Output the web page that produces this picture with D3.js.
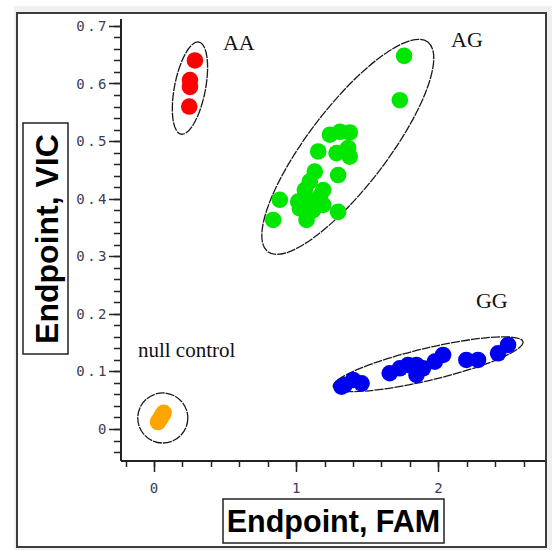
<!DOCTYPE html>
<html>
<head>
<meta charset="utf-8">
<script src="https://cdn.jsdelivr.net/npm/d3@7"></script>
<style>
  body { margin: 0; background: #fff; }
  svg { display: block; }
</style>
</head>
<body>
<svg id="svg" width="552" height="550"></svg>
<script>
// genotype clusters, [FAM, VIC] endpoint values
const aaPoints = [[0.288, 0.640], [0.253, 0.606], [0.253, 0.594], [0.248, 0.560]]
const agPoints = [
  [1.759, 0.648], [1.729, 0.571], [1.237, 0.511], [1.307, 0.516], [1.377, 0.515],
  [1.155, 0.482], [1.284, 0.479], [1.365, 0.488], [1.377, 0.473], [1.295, 0.441],
  [1.131, 0.447], [1.096, 0.430], [1.061, 0.415], [1.190, 0.415], [0.885, 0.398],
  [1.014, 0.395], [1.084, 0.398], [1.167, 0.404], [1.026, 0.383], [1.119, 0.380],
  [1.190, 0.389], [1.073, 0.363], [1.295, 0.377], [0.838, 0.363]
]
const ggPoints = [
  [1.319, 0.0735], [1.342, 0.0764], [1.401, 0.0851], [1.460, 0.0794], [1.658, 0.0968],
  [1.729, 0.1054], [1.787, 0.1112], [1.846, 0.1112], [1.846, 0.0938], [1.892, 0.1054],
  [1.975, 0.117], [2.033, 0.1285], [2.197, 0.1199], [2.279, 0.1199], [2.420, 0.1315],
  [2.490, 0.1459]
]
const nullPoints = [[0.028, 0.012], [0.038, 0.016], [0.049, 0.020], [0.058, 0.024], [0.068, 0.028]]

const clusterNames = ['AA', 'AG', 'GG', 'null control']
const clusterColours = ['#ff0000', '#00e600', '#0000f0', '#ffa500']
// ellipse: centre, end of major axis, minor/major ratio
const ellipseCentres = [[0.253, 0.592], [1.363, 0.490], [1.928, 0.1125], [0.062, 0.0191]]
const ellipseTips = [[0.316, 0.672], [1.926, 0.672], [2.595, 0.1516], [0.238, 0.0191]]
const ellipseRatios = [0.33, 0.30, 0.165, 1]
const labelAnchors = [[0.485, 0.658], [2.089, 0.664], [2.264, 0.210], [-0.113, 0.125]]

const xMajor = [0, 1, 2]
const yMajor = [0, 0.1, 0.2, 0.3, 0.4, 0.5, 0.6, 0.7]
const xMinor = d3.range(-0.2, 2.61, 0.2)
const yMinor = d3.range(-0.04, 0.701, 0.02)

const svg = d3.select('#svg')

// window background and frame
svg.append('rect')
  .attr('x', 14).attr('y', 6).attr('width', 538).attr('height', 544)
  .attr('fill', '#f0f0f0')
svg.append('rect')
  .attr('x', 17).attr('y', 13).attr('width', 529).attr('height', 534)
  .attr('fill', '#fff')
  .attr('stroke', '#3c3c3c')
  .attr('stroke-width', 2)

const x = d3.scaleLinear().domain([-0.232, 2.75]).range([121, 545])
const y = d3.scaleLinear().domain([-0.0556, 0.712]).range([461, 19])

const tickFont = '"DejaVu Sans Mono", monospace'

// y axis
const yAxis = svg.append('g')
yAxis.append('line')
  .attr('x1', x(-0.232)).attr('x2', x(-0.232))
  .attr('y1', y(0.712)).attr('y2', y(-0.0556))
  .attr('stroke', '#222').attr('stroke-width', 2)
yAxis.selectAll('.minor')
  .data(yMinor)
  .join('line')
  .attr('x1', 114).attr('x2', 121)
  .attr('y1', d => Math.round(y(d)) + 0.5).attr('y2', d => Math.round(y(d)) + 0.5)
  .attr('stroke', '#222').attr('stroke-width', 1.5)
yAxis.selectAll('.major')
  .data(yMajor)
  .join('line')
  .attr('x1', 109).attr('x2', 121)
  .attr('y1', d => Math.round(y(d)) + 0.5).attr('y2', d => Math.round(y(d)) + 0.5)
  .attr('stroke', '#222').attr('stroke-width', 1.5)
yAxis.selectAll('text')
  .data(yMajor)
  .join('text')
  .text(d => d3.format('.1~f')(d))
  .attr('x', 109)
  .attr('y', d => y(d))
  .attr('dy', '0.36em')
  .style('font-family', tickFont)
  .style('font-size', '14px')
  .style('letter-spacing', '2.5px')
  .style('text-anchor', 'end')
  .style('fill', '#3c3c58')

// x axis
const xAxis = svg.append('g')
xAxis.append('line')
  .attr('x1', x(-0.232)).attr('x2', x(2.75))
  .attr('y1', y(-0.0556)).attr('y2', y(-0.0556))
  .attr('stroke', '#222').attr('stroke-width', 2)
xAxis.selectAll('.minor')
  .data(xMinor)
  .join('line')
  .attr('x1', d => Math.round(x(d)) + 0.5).attr('x2', d => Math.round(x(d)) + 0.5)
  .attr('y1', 461).attr('y2', 467)
  .attr('stroke', '#222').attr('stroke-width', 1.5)
xAxis.selectAll('.major')
  .data(xMajor)
  .join('line')
  .attr('x1', d => Math.round(x(d)) + 0.5).attr('x2', d => Math.round(x(d)) + 0.5)
  .attr('y1', 461).attr('y2', 472)
  .attr('stroke', '#222').attr('stroke-width', 1.5)
xAxis.selectAll('text')
  .data(xMajor)
  .join('text')
  .text(d => d)
  .attr('x', d => x(d))
  .attr('y', 488)
  .attr('dy', '0.36em')
  .style('font-family', tickFont)
  .style('font-size', '14px')
  .style('text-anchor', 'middle')
  .style('fill', '#3c3c58')

// ellipses round the clusters
clusterNames.forEach((name, i) => {
  const cx = x(ellipseCentres[i][0])
  const cy = y(ellipseCentres[i][1])
  const tx = x(ellipseTips[i][0])
  const ty = y(ellipseTips[i][1])
  const a = Math.hypot(tx - cx, ty - cy)
  const angle = Math.atan2(ty - cy, tx - cx) * 180 / Math.PI
  svg.append('ellipse')
    .attr('cx', cx).attr('cy', cy)
    .attr('rx', a).attr('ry', a * ellipseRatios[i])
    .attr('transform', `rotate(${angle}, ${cx}, ${cy})`)
    .attr('fill', 'none')
    .attr('stroke', '#1a1a1a')
    .attr('stroke-width', 1.3)
    .attr('stroke-dasharray', '9,1')
})

// points
const groups = [aaPoints, agPoints, ggPoints, nullPoints]
groups.forEach((pts, i) => {
  svg.append('g')
    .selectAll('circle')
    .data(pts)
    .join('circle')
    .attr('cx', d => x(d[0]))
    .attr('cy', d => y(d[1]))
    .attr('r', 8.3)
    .attr('fill', clusterColours[i])
})

// cluster labels
svg.append('g')
  .selectAll('text')
  .data(clusterNames)
  .join('text')
  .text(d => d)
  .attr('x', (d, i) => x(labelAnchors[i][0]))
  .attr('y', (d, i) => y(labelAnchors[i][1]))
  .style('font-family', '"Liberation Serif", "Times New Roman", serif')
  .style('font-size', (d, i) => i === 3 ? '21px' : '22px')
  .style('fill', '#111')

// axis titles in boxes
svg.append('rect')
  .attr('x', 23).attr('y', 123).attr('width', 45).attr('height', 231)
  .attr('fill', '#fff').attr('stroke', '#222').attr('stroke-width', 1.5)
svg.append('text')
  .text('Endpoint, VIC')
  .attr('transform', 'translate(46, 239) rotate(-90)')
  .attr('dy', '0.36em')
  .style('font-family', '"Liberation Sans", Arial, sans-serif')
  .style('font-weight', 'bold')
  .style('font-size', '32px')
  .style('text-anchor', 'middle')
  .style('fill', '#000')

svg.append('rect')
  .attr('x', 223).attr('y', 499).attr('width', 221).attr('height', 44)
  .attr('fill', '#fff').attr('stroke', '#222').attr('stroke-width', 1.5)
svg.append('text')
  .text('Endpoint, FAM')
  .attr('x', 333.5).attr('y', 521)
  .attr('dy', '0.36em')
  .style('font-family', '"Liberation Sans", Arial, sans-serif')
  .style('font-weight', 'bold')
  .style('font-size', '30.5px')
  .style('text-anchor', 'middle')
  .style('fill', '#000')
</script>
</body>
</html>
